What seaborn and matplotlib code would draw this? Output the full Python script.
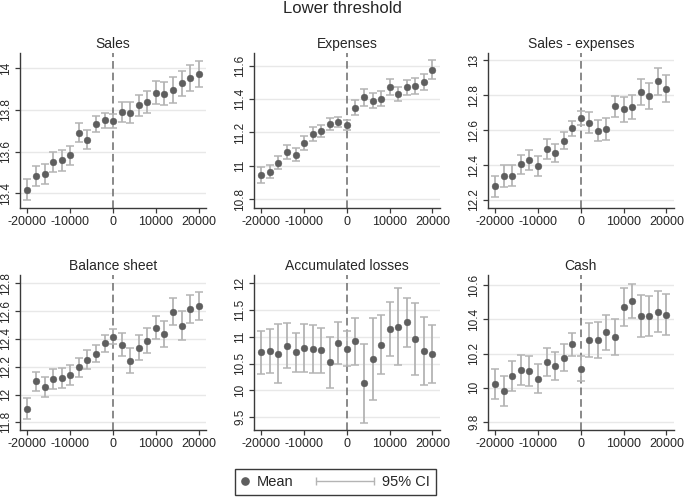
import numpy as np
import pandas as pd
import matplotlib
matplotlib.use("Agg")
import matplotlib.pyplot as plt
from matplotlib.lines import Line2D
from matplotlib.legend_handler import HandlerLine2D
from matplotlib.ticker import FormatStrFormatter
import seaborn as sns

# distance to threshold (bins)
running_var = [-20000, -18000, -16000, -14000, -12000, -10000, -8000, -6000, -4000, -2000,
               0, 2000, 4000, 6000, 8000, 10000, 12000, 14000, 16000, 18000, 20000]

sales_mean = [13.416, 13.483, 13.493, 13.549, 13.557, 13.581, 13.691, 13.656, 13.731, 13.749,
              13.747, 13.789, 13.786, 13.821, 13.838, 13.882, 13.877, 13.894, 13.928, 13.952, 13.973]
sales_ci = [0.050, 0.048, 0.048, 0.048, 0.048, 0.046, 0.046, 0.045, 0.038, 0.036,
            0.035, 0.049, 0.051, 0.052, 0.054, 0.055, 0.055, 0.062, 0.060, 0.062, 0.063]

expenses_mean = [10.946, 10.966, 11.020, 11.082, 11.068, 11.138, 11.190, 11.210, 11.248, 11.262,
                 11.246, 11.348, 11.410, 11.390, 11.402, 11.472, 11.430, 11.470, 11.478, 11.500, 11.576]
expenses_ci = [0.046, 0.039, 0.040, 0.042, 0.040, 0.040, 0.040, 0.037, 0.036, 0.030,
               0.031, 0.046, 0.049, 0.046, 0.044, 0.049, 0.044, 0.047, 0.046, 0.048, 0.055]

salexp_mean = [12.278, 12.337, 12.339, 12.404, 12.429, 12.397, 12.492, 12.467, 12.540, 12.610,
               12.668, 12.643, 12.597, 12.607, 12.736, 12.719, 12.731, 12.818, 12.794, 12.880, 12.838]
salexp_ci = [0.062, 0.061, 0.060, 0.056, 0.058, 0.057, 0.055, 0.052, 0.049, 0.044,
             0.041, 0.061, 0.061, 0.064, 0.062, 0.071, 0.068, 0.075, 0.074, 0.077, 0.076]

balance_mean = [11.898, 12.095, 12.052, 12.112, 12.117, 12.143, 12.196, 12.251, 12.294, 12.368,
                12.414, 12.359, 12.244, 12.338, 12.386, 12.482, 12.434, 12.596, 12.495, 12.613, 12.634]
balance_ci = [0.074, 0.070, 0.073, 0.071, 0.072, 0.071, 0.068, 0.070, 0.062, 0.059,
              0.054, 0.083, 0.090, 0.088, 0.090, 0.085, 0.092, 0.096, 0.105, 0.100, 0.100]

losses_mean = [10.711, 10.742, 10.686, 10.836, 10.717, 10.786, 10.773, 10.748, 10.530, 10.892,
               10.780, 10.917, 10.132, 10.580, 10.854, 11.147, 11.190, 11.271, 10.960, 10.736, 10.674]
losses_ci = [0.395, 0.414, 0.548, 0.417, 0.364, 0.448, 0.445, 0.420, 0.476, 0.389,
             0.330, 0.439, 0.735, 0.766, 0.548, 0.504, 0.713, 0.458, 0.679, 0.626, 0.542]

cash_mean = [10.022, 9.980, 10.071, 10.104, 10.099, 10.054, 10.151, 10.126, 10.177, 10.255,
             10.112, 10.280, 10.280, 10.325, 10.298, 10.471, 10.508, 10.420, 10.420, 10.446, 10.427]
cash_ci = [0.085, 0.087, 0.087, 0.085, 0.088, 0.084, 0.083, 0.083, 0.078, 0.068,
           0.072, 0.099, 0.105, 0.102, 0.104, 0.111, 0.101, 0.123, 0.116, 0.121, 0.120]

panel_titles = ["Sales", "Expenses", "Sales - expenses",
                "Balance sheet", "Accumulated losses", "Cash"]
panel_means = [sales_mean, expenses_mean, salexp_mean, balance_mean, losses_mean, cash_mean]
panel_cis = [sales_ci, expenses_ci, salexp_ci, balance_ci, losses_ci, cash_ci]
panel_yticks = [[13.4, 13.6, 13.8, 14],
                [10.8, 11, 11.2, 11.4, 11.6],
                [12.2, 12.4, 12.6, 12.8, 13],
                [11.8, 12, 12.2, 12.4, 12.6, 12.8],
                [9.5, 10, 10.5, 11, 11.5, 12],
                [9.8, 10, 10.2, 10.4, 10.6]]
panel_ylims = [(13.329, 14.073), (10.748, 11.676), (12.154, 13.042),
               (11.745, 12.86), (9.263, 12.155), (9.753, 10.66)]
xticks = [-20000, -10000, 0, 10000, 20000]

frames = []
for title, m, c in zip(panel_titles, panel_means, panel_cis):
    frames.append(pd.DataFrame({"panel": title, "x": running_var, "mean": m, "ci": c}))
df = pd.concat(frames, ignore_index=True)

sns.set_theme(style="white")
plt.rcParams["font.family"] = ["Liberation Sans", "DejaVu Sans"]
plt.rcParams["axes.unicode_minus"] = False

point_col = "#5e5e5e"
bar_col = "#b4b4b4"

fig, axes = plt.subplots(2, 3, figsize=(6.85, 4.97), dpi=100)
fig.subplots_adjust(left=0.0292, right=0.984, bottom=0.1348, top=0.8934,
                    wspace=0.255, hspace=0.432)

for ax, title, yt, yl in zip(axes.flat, panel_titles, panel_yticks, panel_ylims):
    d = df[df["panel"] == title]
    ax.errorbar(d["x"], d["mean"], yerr=d["ci"], fmt="none", ecolor=bar_col,
                elinewidth=1.3, capsize=3, capthick=1.1, zorder=2)
    sns.scatterplot(data=d, x="x", y="mean", ax=ax, color=point_col, s=24,
                    edgecolor=point_col, linewidth=0.3, zorder=3, legend=False)
    ax.axvline(0, color="#6a6a6a", lw=1.1, ls=(0, (5, 2.6)), zorder=1)

    ax.set_title(title, fontsize=10, pad=3.5)
    ax.set_xlabel("")
    ax.set_ylabel("")
    ax.set_xlim(-21750, 21800)
    ax.set_ylim(*yl)
    ax.set_xticks(xticks)
    ax.set_yticks(yt)
    ax.yaxis.set_major_formatter(FormatStrFormatter("%g"))
    ax.yaxis.grid(True, color="#e8e8e8", lw=1)
    ax.set_axisbelow(True)
    sns.despine(ax=ax)
    for side in ["left", "bottom"]:
        ax.spines[side].set_color("#3a3a3a")
        ax.spines[side].set_linewidth(1)
    ax.tick_params(axis="both", length=3.5, width=0.9, color="#3a3a3a",
                   pad=2, direction="out", left=True, bottom=True)
    ax.tick_params(axis="x", labelsize=9)
    ax.tick_params(axis="y", labelsize=8.5, labelrotation=90)
    for lbl in ax.get_yticklabels():
        lbl.set_va("center")

for ax in axes[0]:
    ax.tick_params(axis="x", labelbottom=True)

fig.suptitle("Lower threshold", fontsize=12, y=0.982, va="center")


class WideCI(HandlerLine2D):
    # stretch the CI handle to the left into the column gap
    def create_artists(self, legend, orig_handle, xdescent, ydescent, width, height,
                       fontsize, trans):
        extra = 3.45 * fontsize
        return super().create_artists(legend, orig_handle, xdescent + extra, ydescent,
                                      width + extra, height, fontsize, trans)


mean_handle = Line2D([], [], ls="none", marker="o", ms=5.2, color=point_col)
ci_handle = Line2D([], [], color=bar_col, lw=1, marker="|", ms=6, mew=1)
leg = fig.legend([mean_handle, ci_handle], ["Mean", "95% CI"], loc="center",
                 bbox_to_anchor=(0.49, 0.0302), ncol=2, fontsize=10.5,
                 handlelength=0.5, handletextpad=0.57, columnspacing=5.0,
                 borderpad=0.42, frameon=True, fancybox=False,
                 handler_map={ci_handle: WideCI(numpoints=2, marker_pad=0)})
leg.get_frame().set_edgecolor("#3a3a3a")
leg.get_frame().set_linewidth(1)
leg.get_frame().set_alpha(1)

fig.savefig("out.png", dpi=100)
